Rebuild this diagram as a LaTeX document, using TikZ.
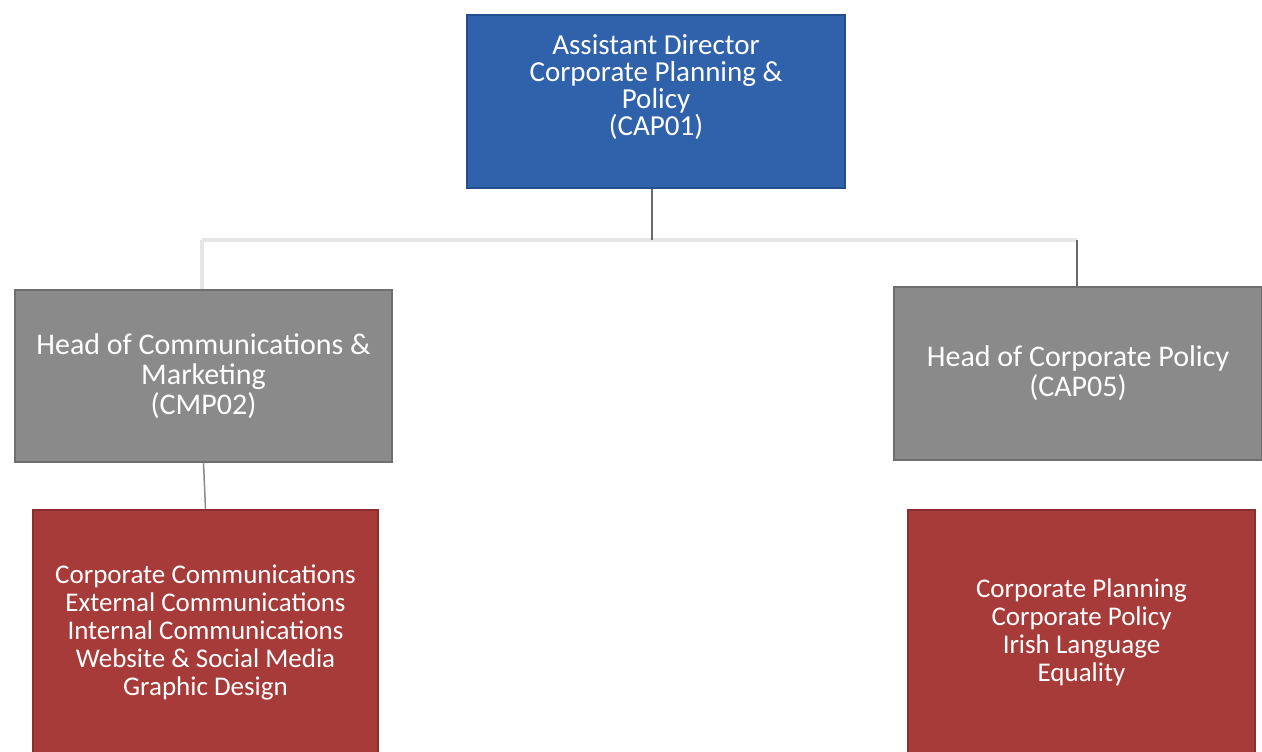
\documentclass[tikz,border=0pt]{standalone}
\usepackage{fontspec}
\setmainfont{Carlito}
\definecolor{topblue}{HTML}{2F62AB}
\definecolor{topblueedge}{HTML}{244F8E}
\definecolor{headgray}{HTML}{8A8A8A}
\definecolor{headgrayedge}{HTML}{6E6E6E}
\definecolor{unitred}{HTML}{A63B39}
\definecolor{unitrededge}{HTML}{8A2E2D}
\definecolor{linkdark}{HTML}{6A6A6A}
\definecolor{linkfaint}{HTML}{E6E6E6}
\tikzset{
  orgbox/.style={rectangle, line width=2.5pt, text=white, align=center, inner sep=4pt},
  topbox/.style={orgbox, fill=topblue, draw=topblueedge, font=\fontsize{29}{27}\selectfont},
  headbox/.style={orgbox, fill=headgray, draw=headgrayedge, font=\fontsize{30}{30}\selectfont},
  unitbox/.style={orgbox, fill=unitred, draw=unitrededge, font=\fontsize{27}{28}\selectfont},
  darklink/.style={draw=linkdark, line width=1.8pt},
  faintlink/.style={draw=linkfaint, line width=4pt}
}
\begin{document}
\begin{tikzpicture}[x=1pt,y=-1pt]
\useasboundingbox (0,0) rectangle (1262,752);
\fill[white] (0,0) rectangle (1262,752);
\node[topbox, minimum width=378pt, minimum height=173pt] (top) at (656,101.5)
  {Assistant Director\\Corporate Planning \&\\Policy\\(CAP01)\\[6pt]};
\node[headbox, minimum width=377pt, minimum height=172pt] (lg) at (203.5,376)
  {Head of Communications \&\\Marketing\\(CMP02)};
\node[headbox, minimum width=368pt, minimum height=173pt] (rg) at (1078,373.5)
  {Head of Corporate Policy\\(CAP05)};
\node[unitbox, minimum width=345pt, minimum height=244pt] (lr) at (205.5,632)
  {Corporate Communications\\External Communications\\Internal Communications\\Website \& Social Media\\Graphic Design};
\node[unitbox, minimum width=347pt, minimum height=244pt] (rr) at (1081.5,632)
  {Corporate Planning\\Corporate Policy\\Irish Language\\Equality};
\coordinate (j) at (652,240);
\coordinate (jl) at (202,240);
\coordinate (jr) at (1077,240);
\draw[faintlink] (jl) -- (jr);
\draw[faintlink] (jl) -- (jl |- lg.north);
\draw[darklink] (top.south -| j) -- (j);
\draw[darklink] (jr) -- (jr |- rg.north);
\draw[draw=headgray, line width=1.5pt] (lg.south) -- (lr.north);
\end{tikzpicture}
\end{document}
